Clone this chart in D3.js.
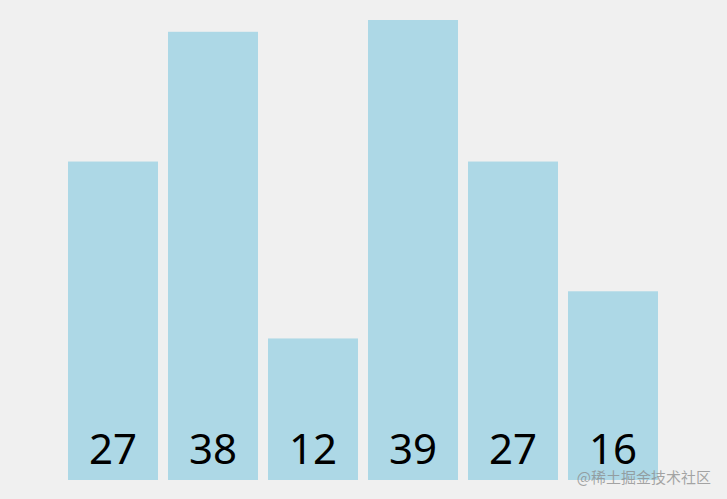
<!DOCTYPE html>
<html>
<head>
<meta charset="utf-8">
<script src="https://cdn.jsdelivr.net/npm/d3@7"></script>
<style>
  html, body { margin: 0; padding: 0; background: #f0f0f0; }
  svg { display: block; }
</style>
</head>
<body>
<div id="chart"></div>
<script>
// values shown on the bars
const values = [27, 38, 12, 39, 27, 16];
const watermark = '@稀土掘金技术社区';

const width = 727, height = 499;

const svg = d3.select('#chart').append('svg')
        .attr('width', width)
        .attr('height', height);

svg.append('rect')
        .attr('width', width)
        .attr('height', height)
        .attr('fill', '#f0f0f0');

const x = d3.scaleBand()
        .domain(values.map((d, i) => i))
        .range([63, 663])
        .paddingInner(0.1)
        .paddingOuter(0.05);

const y = d3.scaleLinear()
        .domain([0, d3.max(values)])
        .range([480, 20]);

svg.selectAll('rect.bar')
        .data(values)
        .join('rect')
        .attr('class', 'bar')
        .attr('x', (d, i) => x(i))
        .attr('y', d => y(d))
        .attr('width', x.bandwidth())
        .attr('height', d => y(0) - y(d))
        .attr('fill', '#add8e6');

svg.selectAll('text.label')
        .data(values)
        .join('text')
        .attr('class', 'label')
        .attr('x', (d, i) => x(i) + x.bandwidth() / 2)
        .attr('y', 464)
        .attr('text-anchor', 'middle')
        .attr('font-family', '"Noto Sans", "Open Sans", sans-serif')
        .attr('font-size', '42px')
        .attr('fill', '#000')
        .text(d => d);

svg.append('text')
        .attr('x', 711)
        .attr('y', 483)
        .attr('text-anchor', 'end')
        .attr('font-family', '"Noto Sans CJK SC", sans-serif')
        .attr('font-size', '15px')
        .attr('fill', '#8a8a8a')
        .attr('fill-opacity', 0.75)
        .text(watermark);
</script>
</body>
</html>
